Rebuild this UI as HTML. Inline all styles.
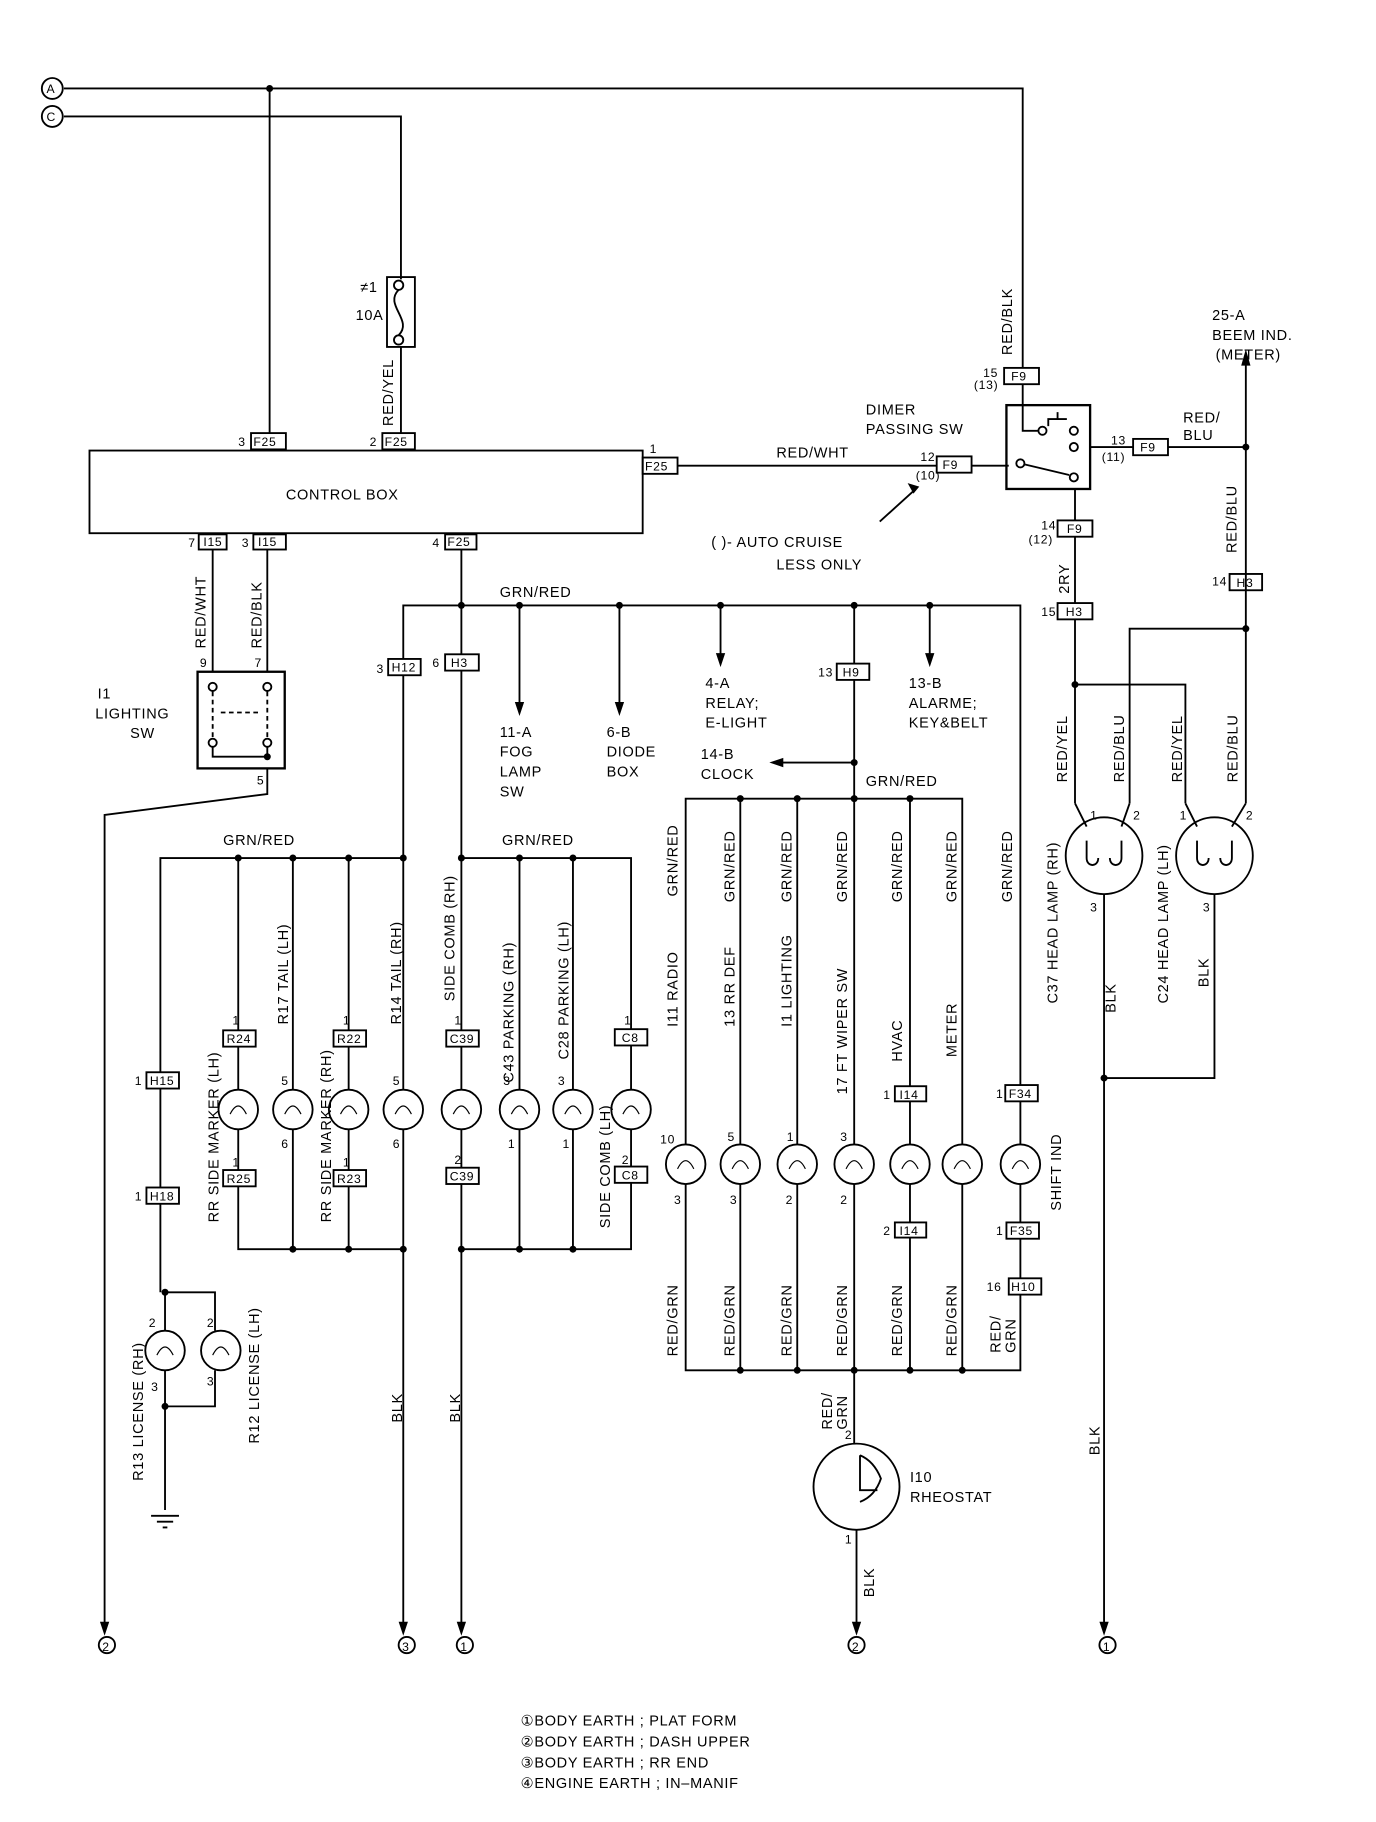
<!DOCTYPE html>
<html><head><meta charset="utf-8"><style>
html,body{margin:0;padding:0;background:#fff}
svg{display:block}
text{font-family:"Liberation Sans",sans-serif;font-size:12.5px;fill:#000;letter-spacing:0.6px}
.s{font-size:10.5px}
</style></head><body>
<svg width="1376" height="1822" viewBox="0 0 1184 1565" preserveAspectRatio="none" xmlns="http://www.w3.org/2000/svg">
<g stroke="#000" stroke-width="1.6" fill="none">
<circle cx="45" cy="76" r="9"/><circle cx="45" cy="100" r="9"/>
<polyline points="55,76 880,76 880,316"/>
<polyline points="55,100 345,100 345,240"/>
<line x1="232" y1="76" x2="232" y2="372"/>
<rect x="333" y="238" width="24" height="60"/>
<circle cx="343" cy="245" r="4"/><circle cx="343" cy="292" r="4"/>
<path d="M343,249 C330,262 356,275 343,288"/>
<line x1="345" y1="298" x2="345" y2="372"/>
<rect x="77" y="387" width="476" height="71"/>
<rect x="216" y="372" width="30" height="14"/><rect x="329" y="372" width="28" height="14"/>
<rect x="553" y="393" width="30" height="14"/>
<line x1="583" y1="400" x2="806" y2="400"/>
<rect x="806" y="392" width="30" height="14"/>
<line x1="836" y1="400" x2="868" y2="400"/>
<line x1="757" y1="448" x2="788" y2="420"/>
<rect x="866" y="348" width="72" height="72" stroke-width="2"/>
<rect x="864" y="316" width="30" height="14"/>
<polyline points="880,330 880,370 893,370"/>
<circle cx="897" cy="370" r="3.5"/><circle cx="924" cy="370" r="3.5"/><circle cx="924" cy="384" r="3.5"/>
<circle cx="878" cy="398" r="3.5"/><circle cx="924" cy="410" r="3.5"/>
<line x1="882" y1="399" x2="920" y2="408"/><polyline points="902,366 902,360 918,360"/><line x1="910" y1="360" x2="910" y2="354"/>
<line x1="938" y1="384" x2="975" y2="384"/>
<rect x="975" y="377" width="30" height="14"/>
<line x1="1005" y1="384" x2="1072" y2="384"/>
<line x1="1072" y1="312" x2="1072" y2="690"/>
<rect x="1058" y="493" width="28" height="14"/>
<polyline points="972,690 972,540 1072,540"/>
<line x1="925" y1="420" x2="925" y2="690"/>
<rect x="910" y="447" width="30" height="14" fill="#fff"/>
<rect x="910" y="518" width="30" height="14" fill="#fff"/>
<polyline points="925,588 1020,588 1020,690"/>
<circle cx="950" cy="735" r="33"/><circle cx="1045" cy="735" r="33"/>
<path d="M925,690 L935,710 M972,690 L965,710 M1020,690 L1030,710 M1072,690 L1060,710"/>
<path d="M935,722 v15 c0,8 10,8 10,0 M965,722 v15 c0,8 -10,8 -10,0 M1030,722 v15 c0,8 10,8 10,0 M1060,722 v15 c0,8 -10,8 -10,0"/>
<line x1="950" y1="768" x2="950" y2="1395"/>
<polyline points="1045,768 1045,926 950,926"/>
<line x1="183" y1="472" x2="183" y2="577"/><line x1="230" y1="472" x2="230" y2="577"/>
<rect x="171" y="459" width="24" height="13"/><rect x="218" y="459" width="28" height="13"/>
<rect x="170" y="577" width="75" height="83" stroke-width="2"/>
<circle cx="183" cy="590" r="3.5"/><circle cx="230" cy="590" r="3.5"/><circle cx="183" cy="638" r="3.5"/><circle cx="230" cy="638" r="3.5"/>
<path d="M190,612 H225 M183,594 V634 M230,594 V634" stroke-dasharray="4,3"/>
<polyline points="183,642 183,650 230,650 230,642"/>
<polyline points="230,660 230,682 90,700 90,1395"/>
<rect x="383" y="459" width="27" height="13"/>
<line x1="397" y1="472" x2="397" y2="1395"/>
<polyline points="347,1395 347,530 347,520 858,520 878,520 878,932"/>
<line x1="447" y1="520" x2="447" y2="605"/><line x1="533" y1="520" x2="533" y2="605"/>
<line x1="620" y1="520" x2="620" y2="563"/><line x1="800" y1="520" x2="800" y2="563"/>
<line x1="735" y1="520" x2="735" y2="983"/>
<rect x="334" y="566" width="28" height="14" fill="#fff"/><rect x="383" y="562" width="29" height="14" fill="#fff"/>
<rect x="720" y="570" width="28" height="14" fill="#fff"/>
<line x1="735" y1="655" x2="672" y2="655"/>
<polyline points="590,983 590,686 828,686 828,983"/>
<line x1="637" y1="686" x2="637" y2="983"/><line x1="686" y1="686" x2="686" y2="983"/>
<line x1="783" y1="686" x2="783" y2="983"/><line x1="878" y1="946" x2="878" y2="983"/>
<rect x="865" y="932" width="28" height="14" fill="#fff"/>
<rect x="770" y="933" width="27" height="13" fill="#fff"/>
<g fill="#fff"><circle cx="590" cy="1000" r="17"/><circle cx="637" cy="1000" r="17"/><circle cx="686" cy="1000" r="17"/><circle cx="735" cy="1000" r="17"/><circle cx="783" cy="1000" r="17"/><circle cx="828" cy="1000" r="17"/><circle cx="878" cy="1000" r="17"/></g>
<polyline points="590,1017 590,1177 878,1177 878,1017"/>
<line x1="637" y1="1017" x2="637" y2="1177"/><line x1="686" y1="1017" x2="686" y2="1177"/><line x1="735" y1="1017" x2="735" y2="1240"/><line x1="783" y1="1017" x2="783" y2="1177"/><line x1="828" y1="1017" x2="828" y2="1177"/>
<rect x="770" y="1050" width="27" height="13" fill="#fff"/>
<rect x="866" y="1050" width="28" height="14" fill="#fff"/><rect x="868" y="1098" width="28" height="14" fill="#fff"/>
<circle cx="737" cy="1277" r="37"/>
<line x1="737" y1="1314" x2="737" y2="1395"/>
<path d="M740,1250 q12,5 18,20 q-5,15 -18,20 M740,1250 V1280 H755"/>
<polyline points="138,1110 138,737 347,737"/>
<line x1="205" y1="737" x2="205" y2="936"/><line x1="252" y1="737" x2="252" y2="936"/><line x1="300" y1="737" x2="300" y2="936"/>
<polyline points="397,737 543,737 543,936"/><line x1="447" y1="737" x2="447" y2="936"/><line x1="493" y1="737" x2="493" y2="936"/>
<g fill="#fff">
<rect x="192" y="885" width="28" height="14"/><rect x="287" y="885" width="28" height="14"/><rect x="384" y="885" width="28" height="14"/><rect x="529" y="884" width="28" height="14"/>
<rect x="126" y="921" width="28" height="14"/><rect x="126" y="1020" width="28" height="14"/>
<circle cx="205" cy="953" r="17"/><circle cx="252" cy="953" r="17"/><circle cx="300" cy="953" r="17"/><circle cx="347" cy="953" r="17"/><circle cx="397" cy="953" r="17"/><circle cx="447" cy="953" r="17"/><circle cx="493" cy="953" r="17"/><circle cx="543" cy="953" r="17"/>
</g>
<polyline points="205,970 205,1073 347,1073"/><line x1="252" y1="970" x2="252" y2="1073"/><line x1="300" y1="970" x2="300" y2="1073"/>
<polyline points="397,1073 543,1073 543,970"/><line x1="447" y1="970" x2="447" y2="1073"/><line x1="493" y1="970" x2="493" y2="1073"/>
<g fill="#fff"><rect x="192" y="1005" width="28" height="14"/><rect x="287" y="1005" width="28" height="14"/><rect x="384" y="1003" width="28" height="14"/><rect x="529" y="1002" width="28" height="14"/></g>
<polyline points="142,1110 142,1297"/><polyline points="142,1110 185,1110 185,1143"/><polyline points="142,1208 185,1208 185,1177"/>
<g fill="#fff"><circle cx="142" cy="1160" r="17"/><circle cx="190" cy="1160" r="17"/></g>
<path d="M130,1302 H154 M135,1307 H149 M140,1312 H144"/>
<g stroke-width="1">
<path d="M198,957 q7,-14 14,0 M245,957 q7,-14 14,0 M293,957 q7,-14 14,0 M340,957 q7,-14 14,0 M390,957 q7,-14 14,0 M440,957 q7,-14 14,0 M486,957 q7,-14 14,0 M536,957 q7,-14 14,0"/>
<path d="M583,1004 q7,-14 14,0 M630,1004 q7,-14 14,0 M679,1004 q7,-14 14,0 M728,1004 q7,-14 14,0 M776,1004 q7,-14 14,0 M821,1004 q7,-14 14,0 M871,1004 q7,-14 14,0"/>
<path d="M135,1164 q7,-14 14,0 M183,1164 q7,-14 14,0"/>
</g>
<circle cx="92" cy="1413" r="7"/><circle cx="350" cy="1413" r="7"/><circle cx="400" cy="1413" r="7"/><circle cx="737" cy="1413" r="7"/><circle cx="953" cy="1413" r="7"/>
</g>
<g fill="#000">
<circle cx="232" cy="76" r="3"/><circle cx="1072" cy="384" r="3"/><circle cx="1072" cy="540" r="3"/><circle cx="925" cy="588" r="3"/><circle cx="950" cy="926" r="3"/>
<circle cx="230" cy="650" r="3"/><circle cx="397" cy="520" r="3"/><circle cx="447" cy="520" r="3"/><circle cx="533" cy="520" r="3"/><circle cx="620" cy="520" r="3"/><circle cx="735" cy="520" r="3"/><circle cx="800" cy="520" r="3"/>
<circle cx="735" cy="655" r="3"/><circle cx="637" cy="686" r="3"/><circle cx="686" cy="686" r="3"/><circle cx="735" cy="686" r="3"/><circle cx="783" cy="686" r="3"/>
<circle cx="637" cy="1177" r="3"/><circle cx="686" cy="1177" r="3"/><circle cx="735" cy="1177" r="3"/><circle cx="783" cy="1177" r="3"/><circle cx="828" cy="1177" r="3"/>
<circle cx="205" cy="737" r="3"/><circle cx="252" cy="737" r="3"/><circle cx="300" cy="737" r="3"/><circle cx="347" cy="737" r="3"/><circle cx="397" cy="737" r="3"/><circle cx="447" cy="737" r="3"/><circle cx="493" cy="737" r="3"/>
<circle cx="252" cy="1073" r="3"/><circle cx="300" cy="1073" r="3"/><circle cx="347" cy="1073" r="3"/><circle cx="397" cy="1073" r="3"/><circle cx="447" cy="1073" r="3"/><circle cx="493" cy="1073" r="3"/>
<circle cx="142" cy="1110" r="3"/><circle cx="142" cy="1208" r="3"/>
<path d="M1068,314 L1072,300 L1076,314Z"/>
<path d="M443,603 L447,615 L451,603Z M529,603 L533,615 L537,603Z M616,561 L620,573 L624,561Z M796,561 L800,573 L804,561Z M674,651 L662,655 L674,659Z"/>
<path d="M781,415 L791,418 L786,424Z"/>
<path d="M86,1393 L90,1405 L94,1393Z M343,1393 L347,1405 L351,1393Z M393,1393 L397,1405 L401,1393Z M733,1393 L737,1405 L741,1393Z M946,1393 L950,1405 L954,1393Z"/>
</g>
<g>
<text x="40" y="80" class="s">A</text><text x="40" y="104" class="s">C</text>
<text x="310" y="251">≠1</text><text x="306" y="275">10A</text>
<text x="246" y="429">CONTROL  BOX</text>
<text x="205" y="383" class="s">3</text><text x="218" y="383" class="s">F25</text>
<text x="318" y="383" class="s">2</text><text x="331" y="383" class="s">F25</text>
<text x="559" y="389" class="s">1</text><text x="555" y="404" class="s">F25</text>
<text x="668" y="393">RED/WHT</text>
<text x="792" y="396" class="s">12</text><text x="788" y="412" class="s">(10)</text><text x="811" y="403" class="s">F9</text>
<text x="612" y="470">(   )-  AUTO CRUISE</text><text x="668" y="489">LESS ONLY</text>
<text x="745" y="356">DIMER</text><text x="745" y="373">PASSING   SW</text>
<text x="846" y="324" class="s">15</text><text x="838" y="334" class="s">(13)</text><text x="870" y="327" class="s">F9</text>
<text x="956" y="382" class="s">13</text><text x="948" y="396" class="s">(11)</text><text x="981" y="388" class="s">F9</text>
<text x="1018" y="363">RED/</text><text x="1018" y="378">BLU</text>
<text x="1043" y="275">25-A</text><text x="1043" y="292">BEEM IND.</text><text x="1046" y="309">(METER)</text>
<text x="896" y="455" class="s">14</text><text x="885" y="467" class="s">(12)</text><text x="918" y="458" class="s">F9</text>
<text x="896" y="529" class="s">15</text><text x="917" y="529" class="s">H3</text>
<text x="1043" y="503" class="s">14</text><text x="1064" y="504" class="s">H3</text>
<text x="938" y="704" class="s">1</text><text x="975" y="704" class="s">2</text><text x="1015" y="704" class="s">1</text><text x="1072" y="704" class="s">2</text>
<text x="938" y="783" class="s">3</text><text x="1035" y="783" class="s">3</text>
<text x="162" y="470" class="s">7</text><text x="175" y="469" class="s">I15</text><text x="208" y="470" class="s">3</text><text x="222" y="469" class="s">I15</text>
<text x="172" y="573" class="s">9</text><text x="219" y="573" class="s">7</text>
<text x="84" y="600">I1</text><text x="82" y="617">LIGHTING</text><text x="112" y="634">SW</text>
<text x="221" y="674" class="s">5</text>
<text x="372" y="470" class="s">4</text><text x="385" y="469" class="s">F25</text>
<text x="430" y="513">GRN/RED</text>
<text x="324" y="578" class="s">3</text><text x="337" y="577" class="s">H12</text><text x="372" y="573" class="s">6</text><text x="388" y="573" class="s">H3</text>
<text x="704" y="581" class="s">13</text><text x="725" y="581" class="s">H9</text>
<text x="430" y="633">11-A</text><text x="430" y="650">FOG</text><text x="430" y="667">LAMP</text><text x="430" y="684">SW</text>
<text x="522" y="633">6-B</text><text x="522" y="650">DIODE</text><text x="522" y="667">BOX</text>
<text x="607" y="591">4-A</text><text x="607" y="608">RELAY;</text><text x="607" y="625">E-LIGHT</text>
<text x="782" y="591">13-B</text><text x="782" y="608">ALARME;</text><text x="782" y="625">KEY&amp;BELT</text>
<text x="603" y="652">14-B</text><text x="603" y="669">CLOCK</text>
<text x="745" y="675">GRN/RED</text>
<text x="192" y="726">GRN/RED</text><text x="432" y="726">GRN/RED</text>
<text x="200" y="880" class="s">1</text><text x="195" y="896" class="s">R24</text>
<text x="295" y="880" class="s">1</text><text x="290" y="896" class="s">R22</text>
<text x="391" y="880" class="s">1</text><text x="387" y="896" class="s">C39</text>
<text x="537" y="880" class="s">1</text><text x="535" y="895" class="s">C8</text>
<text x="200" y="1002" class="s">1</text><text x="195" y="1016" class="s">R25</text>
<text x="295" y="1002" class="s">1</text><text x="290" y="1016" class="s">R23</text>
<text x="391" y="1000" class="s">2</text><text x="387" y="1014" class="s">C39</text>
<text x="535" y="1000" class="s">2</text><text x="535" y="1013" class="s">C8</text>
<text x="242" y="932" class="s">5</text><text x="242" y="986" class="s">6</text>
<text x="338" y="932" class="s">5</text><text x="338" y="986" class="s">6</text>
<text x="433" y="932" class="s">3</text><text x="437" y="986" class="s">1</text>
<text x="480" y="932" class="s">3</text><text x="484" y="986" class="s">1</text>
<text x="116" y="932" class="s">1</text><text x="129" y="932" class="s">H15</text>
<text x="116" y="1031" class="s">1</text><text x="129" y="1031" class="s">H18</text>
<text x="128" y="1140" class="s">2</text><text x="178" y="1140" class="s">2</text>
<text x="130" y="1195" class="s">3</text><text x="178" y="1190" class="s">3</text>
<text x="568" y="982" class="s">10</text><text x="580" y="1034" class="s">3</text>
<text x="626" y="980" class="s">5</text><text x="628" y="1034" class="s">3</text>
<text x="677" y="980" class="s">1</text><text x="676" y="1034" class="s">2</text>
<text x="723" y="980" class="s">3</text><text x="723" y="1034" class="s">2</text>
<text x="760" y="944" class="s">1</text><text x="774" y="944" class="s">I14</text>
<text x="760" y="1061" class="s">2</text><text x="774" y="1061" class="s">I14</text>
<text x="857" y="943" class="s">1</text><text x="868" y="943" class="s">F34</text>
<text x="857" y="1061" class="s">1</text><text x="869" y="1061" class="s">F35</text>
<text x="849" y="1109" class="s">16</text><text x="870" y="1109" class="s">H10</text>
<text x="727" y="1236" class="s">2</text><text x="727" y="1326" class="s">1</text>
<text x="783" y="1273">I10</text><text x="783" y="1290">RHEOSTAT</text>
<text x="88" y="1418" class="s">2</text><text x="346" y="1418" class="s">3</text><text x="396" y="1418" class="s">1</text><text x="733" y="1418" class="s">2</text><text x="949" y="1418" class="s">1</text>
<text x="448" y="1482">①BODY  EARTH ; PLAT FORM</text>
<text x="448" y="1500">②BODY  EARTH ; DASH UPPER</text>
<text x="448" y="1518">③BODY  EARTH ; RR END</text>
<text x="448" y="1536">④ENGINE  EARTH ; IN–MANIF</text>
</g>
<g>
<text transform="translate(338,366) rotate(-90)">RED/YEL</text>
<text transform="translate(871,305) rotate(-90)">RED/BLK</text>
<text transform="translate(1064,475) rotate(-90)">RED/BLU</text>
<text transform="translate(920,510) rotate(-90)">2RY</text>
<text transform="translate(918,672) rotate(-90)">RED/YEL</text>
<text transform="translate(967,672) rotate(-90)">RED/BLU</text>
<text transform="translate(1017,672) rotate(-90)">RED/YEL</text>
<text transform="translate(1065,672) rotate(-90)">RED/BLU</text>
<text transform="translate(910,862) rotate(-90)">C37 HEAD LAMP (RH)</text>
<text transform="translate(1005,862) rotate(-90)">C24 HEAD LAMP (LH)</text>
<text transform="translate(960,870) rotate(-90)">BLK</text>
<text transform="translate(1040,848) rotate(-90)">BLK</text>
<text transform="translate(946,1250) rotate(-90)">BLK</text>
<text transform="translate(177,557) rotate(-90)">RED/WHT</text>
<text transform="translate(225,557) rotate(-90)">RED/BLK</text>
<text transform="translate(188,1050) rotate(-90)">RR SIDE MARKER (LH)</text>
<text transform="translate(248,880) rotate(-90)">R17 TAIL (LH)</text>
<text transform="translate(285,1050) rotate(-90)">RR SIDE MARKER (RH)</text>
<text transform="translate(345,880) rotate(-90)">R14 TAIL (RH)</text>
<text transform="translate(391,860) rotate(-90)">SIDE COMB (RH)</text>
<text transform="translate(442,930) rotate(-90)">C43 PARKING (RH)</text>
<text transform="translate(489,910) rotate(-90)">C28 PARKING (LH)</text>
<text transform="translate(525,1055) rotate(-90)">SIDE COMB (LH)</text>
<text transform="translate(123,1272) rotate(-90)">R13 LICENSE (RH)</text>
<text transform="translate(223,1240) rotate(-90)">R12 LICENSE (LH)</text>
<text transform="translate(346,1222) rotate(-90)">BLK</text>
<text transform="translate(396,1222) rotate(-90)">BLK</text>
<text transform="translate(583,770) rotate(-90)">GRN/RED</text>
<text transform="translate(632,775) rotate(-90)">GRN/RED</text>
<text transform="translate(681,775) rotate(-90)">GRN/RED</text>
<text transform="translate(729,775) rotate(-90)">GRN/RED</text>
<text transform="translate(776,775) rotate(-90)">GRN/RED</text>
<text transform="translate(823,775) rotate(-90)">GRN/RED</text>
<text transform="translate(871,775) rotate(-90)">GRN/RED</text>
<text transform="translate(583,882) rotate(-90)">I11 RADIO</text>
<text transform="translate(632,882) rotate(-90)">13 RR DEF</text>
<text transform="translate(681,882) rotate(-90)">I1 LIGHTING</text>
<text transform="translate(729,940) rotate(-90)">17 FT WIPER SW</text>
<text transform="translate(776,912) rotate(-90)">HVAC</text>
<text transform="translate(823,908) rotate(-90)">METER</text>
<text transform="translate(913,1040) rotate(-90)">SHIFT IND</text>
<text transform="translate(583,1165) rotate(-90)">RED/GRN</text>
<text transform="translate(632,1165) rotate(-90)">RED/GRN</text>
<text transform="translate(681,1165) rotate(-90)">RED/GRN</text>
<text transform="translate(729,1165) rotate(-90)">RED/GRN</text>
<text transform="translate(776,1165) rotate(-90)">RED/GRN</text>
<text transform="translate(823,1165) rotate(-90)">RED/GRN</text>
<text transform="translate(861,1162) rotate(-90)">RED/</text>
<text transform="translate(874,1162) rotate(-90)">GRN</text>
<text transform="translate(716,1228) rotate(-90)">RED/</text>
<text transform="translate(729,1228) rotate(-90)">GRN</text>
<text transform="translate(752,1372) rotate(-90)">BLK</text>
</g>
</svg>
</body></html>
